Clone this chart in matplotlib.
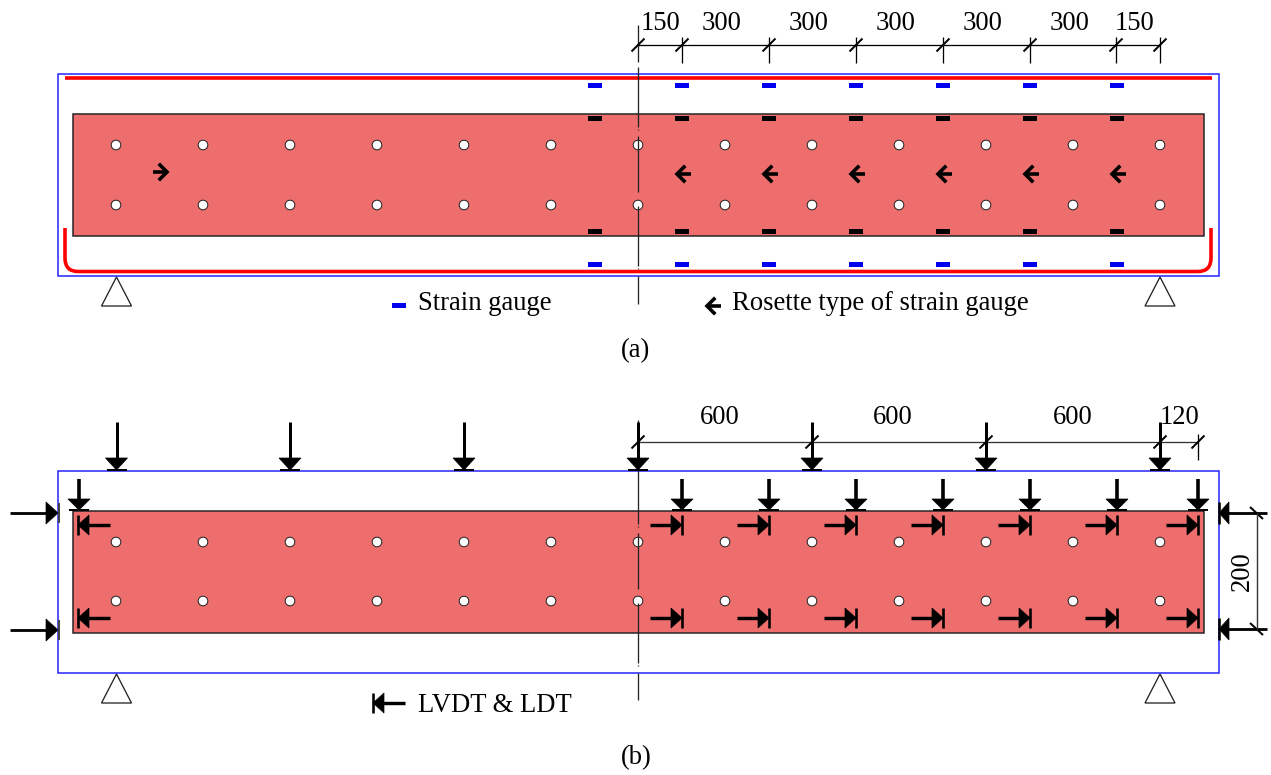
import matplotlib
matplotlib.use("Agg")
import matplotlib.pyplot as plt
from matplotlib.patches import Rectangle, Polygon, Circle, PathPatch
from matplotlib.path import Path

plt.rcParams['font.family'] = ['Liberation Serif', 'DejaVu Serif']

# Drawing units = reference pixels
beam_a_y = (114, 236)
beam_b_y = (511, 633)
beam_x = (73, 1204)
frame_x = (58, 1219)
frame_a_y = (74, 276)
frame_b_y = (471, 673)
hole_x = [116, 203, 290, 377, 464, 551, 638, 725, 812, 899, 986, 1073, 1160]
hole_a_y = [145, 205]
hole_b_y = [542, 601]
gauge_x = [595, 681.5, 769, 855.5, 943, 1030, 1117]
gauge_blue_y = [85, 264.5]
gauge_black_y = [118.5, 231.5]
rosette_left_x = [683, 770, 857, 944, 1031, 1118]
rosette_right_x = [161]
rosette_y = 174
dim_a_ticks = [638, 682, 769, 856, 943, 1030, 1116, 1160]
dim_a_labels = ["150", "300", "300", "300", "300", "300", "150"]
dim_a_label_x = [661, 722, 809, 896, 983, 1070, 1135]
dim_b_ticks = [638, 812, 986, 1160, 1198]
dim_b_labels = ["600", "600", "600", "120"]
dim_b_label_x = [720, 893, 1073, 1180]
big_load_x = [116.5, 290, 464, 638, 812, 986, 1160]
small_load_x = [79, 682, 769, 856, 943, 1030, 1117, 1198]
lvdt_y = [525, 618]
lvdt_left_x = [78]
lvdt_right_x = [682, 769, 856, 943, 1030, 1117, 1198]
side_y_left = [513, 630]
side_y_right = [513, 629]
support_x = [116.5, 1160]
center_a = [(25, 62), (67, 127), (128.5, 129.5), (136, 192), (206, 266), (267.5, 268.5), (276, 304)]
center_b = [(420, 459), (464, 524), (525.5, 526.5), (533, 589), (603, 663), (664.5, 665.5), (673, 700)]

FILL = '#EE6E6E'
BLUE = '#2020FF'
RED = '#FF0000'
PX = 72 / 100  # one pixel in points
FS = 19.2

fig = plt.figure(figsize=(12.71, 7.75), dpi=100)
ax = fig.add_axes([0, 0, 1, 1])
ax.set_xlim(0, 1271)
ax.set_ylim(775, 0)
ax.axis('off')


def line(xs, ys, color='k', w=1.0, z=5, cap='butt'):
    ax.plot(xs, ys, color=color, lw=w * PX, zorder=z, solid_capstyle=cap, solid_joinstyle='miter')


def tri(pts, z=6):
    ax.add_patch(Polygon(pts, closed=True, fc='k', ec='k', lw=0.5, zorder=z))


def rect(x, y, color):
    ax.add_patch(Rectangle((x - 7, y - 2.5), 14, 5, fc=color, ec='none', zorder=6))


def rosette(x, y, d):
    # d = -1 points left, +1 points right
    line([x + d * 6, x - d * 8], [y, y], w=3.6)
    ax.plot([x - d * 1, x + d * 6, x - d * 1], [y - 7, y, y + 7], color='k', lw=3.6 * PX,
            zorder=6, solid_joinstyle='miter')


def tick(x, y):
    line([x - 6.5, x + 6.5], [y + 6.5, y - 6.5], w=2.0)


def down(x, top, tip, hw, hl, bar, w=3):
    line([x, x], [top, tip - hl], w=w)
    tri([(x - hw, tip - hl), (x + hw, tip - hl), (x, tip)])
    line([x - bar, x + bar], [tip, tip], w=2.0)


def lvdt(x, y, d):
    # bar at x, head touching it, shaft extends away; d = +1 shaft to the left of the bar
    line([x, x], [y - 10, y + 10], w=2.6)
    tri([(x, y), (x - d * 11, y - 10), (x - d * 11, y + 10)])
    line([x - d * 32, x - d * 8], [y, y], w=3.4)


for (by, fy) in [(beam_a_y, frame_a_y), (beam_b_y, frame_b_y)]:
    ax.add_patch(Rectangle((frame_x[0], fy[0]), frame_x[1] - frame_x[0], fy[1] - fy[0],
                           fc='none', ec=BLUE, lw=1.5 * PX, zorder=2))
    ax.add_patch(Rectangle((beam_x[0], by[0]), beam_x[1] - beam_x[0], by[1] - by[0],
                           fc=FILL, ec='#222222', lw=1.5 * PX, zorder=3))

for ys in (hole_a_y, hole_b_y):
    for y in ys:
        for x in hole_x:
            ax.add_patch(Circle((x, y), 4.8, fc='white', ec='#222222', lw=1.0 * PX, zorder=4))

# Reinforcement
line([65, 1212], [78, 78], color=RED, w=3.6, z=4)
verts = [(65, 228), (65, 258), (65, 271.5), (78, 271.5), (1198, 271.5), (1211, 271.5), (1211, 258), (1211, 228)]
codes = [Path.MOVETO, Path.LINETO, Path.CURVE3, Path.CURVE3, Path.LINETO, Path.CURVE3, Path.CURVE3, Path.LINETO]
ax.add_patch(PathPatch(Path(verts, codes), fc='none', ec=RED, lw=3.6 * PX, zorder=4))

# Centre lines
for segs in (center_a, center_b):
    for a, b in segs:
        line([637.5, 637.5], [a, b], color='#222222', w=1.3, z=5)

# Gauges
for x in gauge_x:
    for y in gauge_blue_y:
        rect(x, y, '#0000EE')
    for y in gauge_black_y:
        rect(x, y, 'k')

# Rosettes
for x in rosette_left_x:
    rosette(x, rosette_y, -1)
for x in rosette_right_x:
    rosette(x, rosette_y - 2, 1)

# Dimensions (a)
line([dim_a_ticks[0], dim_a_ticks[-1]], [45, 45], w=1.3)
for x in dim_a_ticks:
    tick(x, 45)
    if x != dim_a_ticks[0]:
        line([x, x], [37, 63], w=1.3)
for x, s in zip(dim_a_label_x, dim_a_labels):
    ax.text(x, 24, s, ha='center', va='center', fontsize=FS, zorder=8)

# Dimensions (b)
line([dim_b_ticks[0], dim_b_ticks[-1]], [442, 442], w=1.3, color='#333333')
for x in dim_b_ticks:
    tick(x, 442)
line([dim_b_ticks[-1]] * 2, [434, 460], w=1.3)
for x, s in zip(dim_b_label_x, dim_b_labels):
    ax.text(x, 418, s, ha='center', va='center', fontsize=FS, zorder=8)

# Loads
for x in big_load_x:
    down(x, 422, 470, 11, 12, 10)
for x in small_load_x:
    down(x, 479, 510, 11, 11, 10, w=3.6)

# LVDTs
for y in lvdt_y:
    for x in lvdt_left_x:
        lvdt(x, y, -1)
    for x in lvdt_right_x:
        lvdt(x, y, 1)

# Side arrows
for y in side_y_left:
    line([10, 48], [y, y], w=2.8)
    tri([(58, y), (46, y - 11), (46, y + 11)])
    line([58.5, 58.5], [y - 10, y + 10], w=2, color='#444444')
for y in side_y_right:
    line([1220, 1267], [y, y], w=2.8)
    tri([(1219, y), (1229, y - 11), (1229, y + 11)])
    line([1219, 1219], [y - 11, y + 11], w=2.6)
    line([1250, 1263], [y - 6, y + 6], w=2.0)
line([1257, 1257], side_y_right, w=1.4, color='#333333')
ax.text(1242, 571, "200", rotation=90, ha='center', va='center', fontsize=FS, zorder=8)

# Supports
for x in support_x:
    for apex in (frame_a_y[1] + 1, frame_b_y[1] + 1):
        ax.add_patch(Polygon([(x, apex), (x - 15, apex + 29), (x + 15, apex + 29)], closed=True,
                             fc='white', ec='#222222', lw=1.3 * PX, zorder=5))

# Legends and captions
rect(399, 305, '#0000EE')
ax.text(418, 303, "Strain gauge", ha='left', va='center', fontsize=FS)
rosette(713, 306, -1)
ax.text(732, 303, "Rosette type of strain gauge", ha='left', va='center', fontsize=FS)
lvdt(373, 703, -1)
ax.text(418, 705, "LVDT & LDT", ha='left', va='center', fontsize=FS)
ax.text(636, 351, "(a)", ha='center', va='center', fontsize=FS)
ax.text(636, 758, "(b)", ha='center', va='center', fontsize=FS)

fig.savefig("out.png", dpi=100, facecolor='white')
